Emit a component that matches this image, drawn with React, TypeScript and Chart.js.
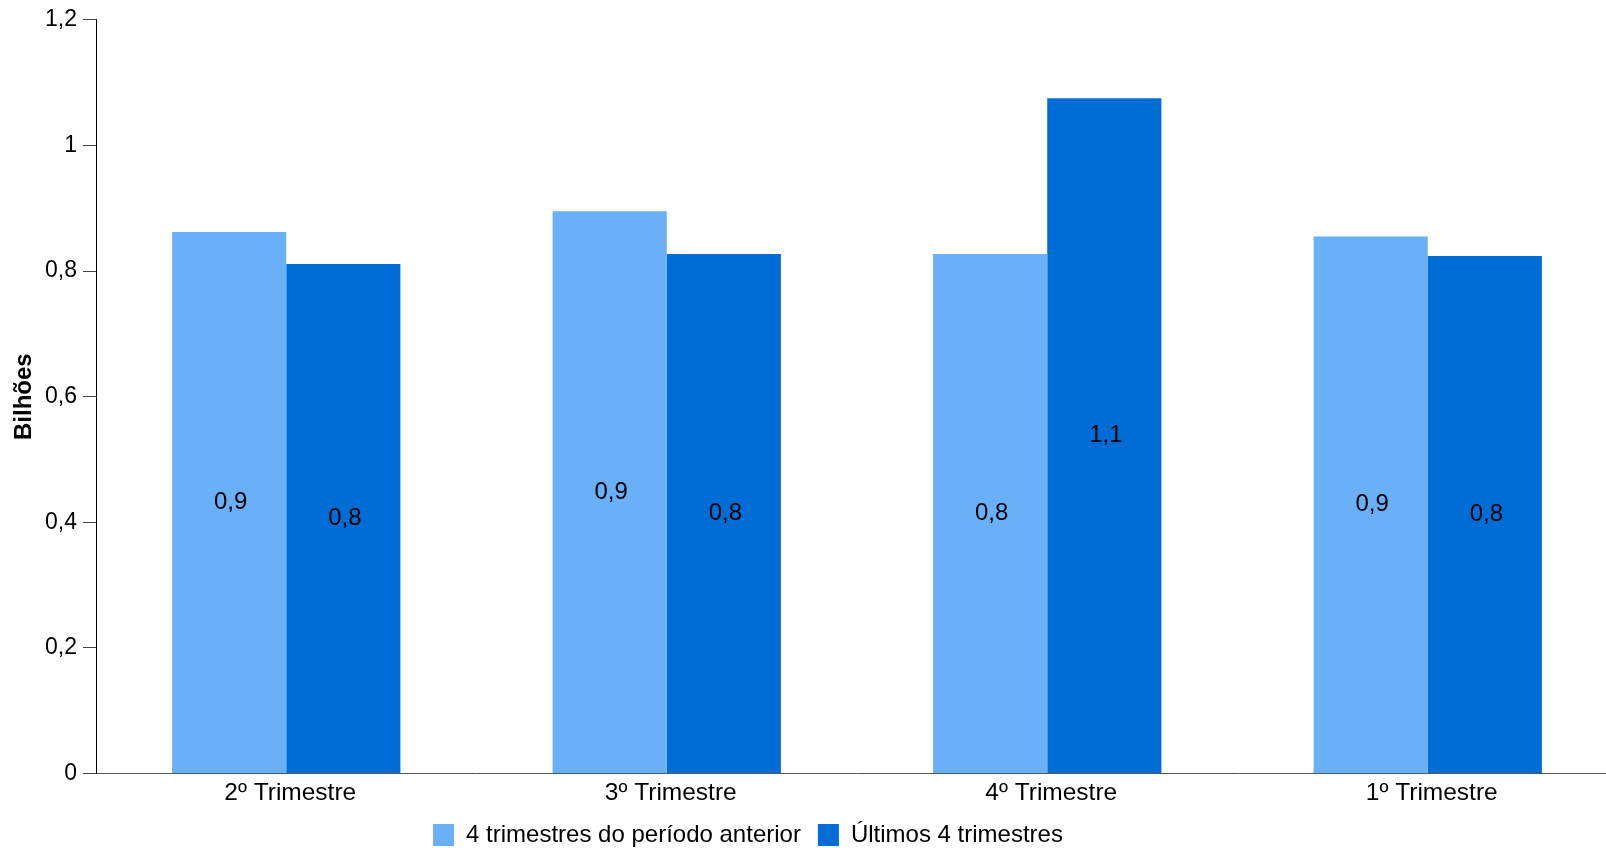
import React, { useEffect, useRef } from 'react';
import { Chart, registerables } from 'chart.js';

Chart.register(...registerables);

const categories = ['2º Trimestre', '3º Trimestre', '4º Trimestre', '1º Trimestre'];
const seriesNames = ['4 trimestres do período anterior', 'Últimos 4 trimestres'];
const previousPeriod = [0.862, 0.895, 0.827, 0.855];
const lastFourQuarters = [0.811, 0.827, 1.075, 0.824];
const yTicks = [0, 0.2, 0.4, 0.6, 0.8, 1, 1.2];
const yAxisTitle = 'Bilhões';
const seriesColors = ['#69B0F8', '#006CD6'];

const FONT = '"Liberation Sans", Arial, Helvetica, sans-serif';
const LEGEND_CENTER = 748;

const fmt = (v: number) => String(Number(v.toFixed(1))).replace('.', ',');

const barLabels = {
  id: 'barLabels',
  afterDatasetsDraw(chart: any) {
    const ctx = chart.ctx;
    ctx.save();
    ctx.font = `24px ${FONT}`;
    ctx.fillStyle = '#000';
    ctx.textAlign = 'center';
    ctx.textBaseline = 'middle';
    chart.data.datasets.forEach((ds: any, i: number) => {
      chart.getDatasetMeta(i).data.forEach((bar: any, j: number) => {
        const { x, y, base } = bar.getProps(['x', 'y', 'base'], true);
        ctx.fillText(fmt(ds.data[j]), x + 1.5, (y + base) / 2);
      });
    });
    ctx.restore();
  },
};

const legendShift = {
  id: 'legendShift',
  afterLayout(chart: any) {
    const lg = chart.legend;
    if (!lg) return;
    const w = lg.right - lg.left;
    lg.left = LEGEND_CENTER - w / 2;
    lg.right = lg.left + w;
  },
};

export default function App() {
  const ref = useRef<HTMLCanvasElement>(null);

  useEffect(() => {
    Chart.defaults.font.family = FONT;
    const chart = new Chart(ref.current as HTMLCanvasElement, {
      type: 'bar',
      data: {
        labels: categories,
        datasets: [
          {
            label: seriesNames[0],
            data: previousPeriod,
            backgroundColor: seriesColors[0],
            borderWidth: 0,
            categoryPercentage: 0.6,
            barPercentage: 1.0,
          },
          {
            label: seriesNames[1],
            data: lastFourQuarters,
            backgroundColor: seriesColors[1],
            borderWidth: 0,
            categoryPercentage: 0.6,
            barPercentage: 1.0,
          },
        ],
      },
      options: {
        responsive: false,
        animation: false,
        devicePixelRatio: 1,
        layout: { padding: { top: 18, right: 2, left: 0, bottom: 0 } },
        plugins: {
          legend: {
            position: 'bottom',
            align: 'center',
            labels: {
              boxWidth: 21,
              boxHeight: 22,
              padding: 17,
              color: '#000',
              font: { size: 24, family: FONT },
            },
          },
          tooltip: { enabled: false },
        },
        scales: {
          x: {
            grid: { display: false, drawTicks: false, tickLength: 0 },
            border: { display: true, color: '#555', width: 1 },
            ticks: {
              color: '#000',
              font: { size: 24.5, family: FONT },
              padding: 5,
              maxRotation: 0,
              labelOffset: 4,
            },
            afterFit: (s: any) => {
              s.height = 32.5;
            },
          },
          y: {
            min: 0,
            max: 1.2,
            afterBuildTicks: (s: any) => {
              s.ticks = yTicks.map((v) => ({ value: v }));
            },
            ticks: {
              color: '#000',
              font: { size: 23, family: FONT },
              padding: 6,
              callback: (v: any) => fmt(Number(v)),
            },
            grid: { drawOnChartArea: false, drawTicks: true, tickLength: 13, color: '#444', lineWidth: 1 },
            border: { display: true, color: '#000', width: 1 },
            title: {
              display: true,
              text: yAxisTitle,
              color: '#000',
              font: { size: 24, weight: 'bold', family: FONT },
              padding: { top: 9.6, bottom: 0 },
            },
            afterFit: (s: any) => {
              s.width = 96;
            },
          },
        },
      },
      plugins: [barLabels, legendShift],
    } as any);
    return () => chart.destroy();
  }, []);

  return (
    <div
      style={{
        position: 'fixed',
        left: 0,
        top: 0,
        width: 1606,
        height: 848,
        overflow: 'hidden',
        background: '#fff',
      }}
    >
      <canvas ref={ref} width={1620} height={857} style={{ display: 'block', width: 1620, height: 857 }} />
    </div>
  );
}
